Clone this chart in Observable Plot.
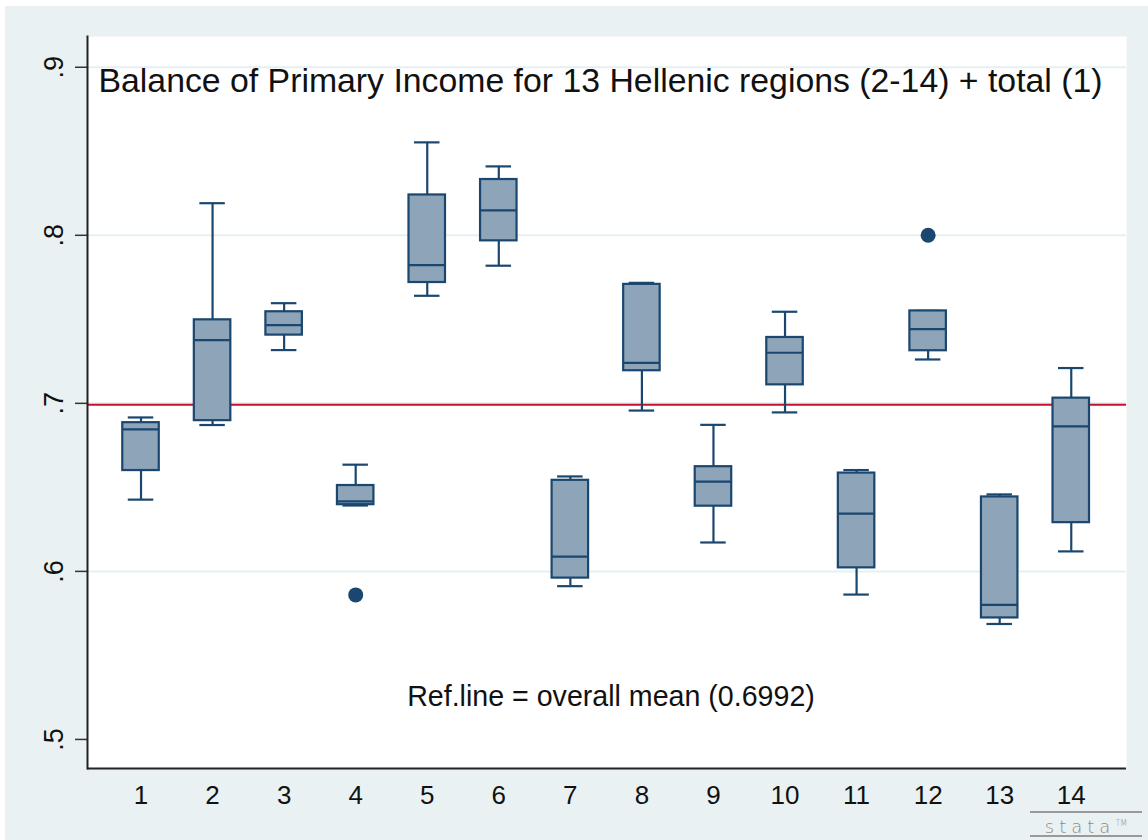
<!DOCTYPE html>
<html>
<head>
<meta charset="utf-8">
<script src="https://cdn.jsdelivr.net/npm/d3@7"></script>
<script src="https://cdn.jsdelivr.net/npm/@observablehq/plot@0.6"></script>
<style>
  html, body { margin: 0; padding: 0; background: #ffffff; }
  #wrap { position: absolute; left: 5px; top: 6px; width: 1143px; height: 834px; background: #e9f1f3; overflow: hidden; }
  #logo { position: absolute; left: 1030px; top: 811px; width: 112px; height: 22px;
          border-top: 2px solid #9a9a9a; border-bottom: 2px solid #9a9a9a;
          font-family: "DejaVu Sans", sans-serif; font-size: 18px; line-height: 22px; color: #8a8a8a;
          letter-spacing: 5px; text-align: center; font-weight: 300; }
  #logo sup { font-size: 8px; letter-spacing: 0; }
</style>
</head>
<body>
<div id="wrap"></div>
<div id="logo">stata<sup>TM</sup></div>
<script>
// ---- data ----
const categories = ["1","2","3","4","5","6","7","8","9","10","11","12","13","14"];
const lowerWhisker = [0.6427, 0.6871, 0.7317, 0.6392, 0.7640, 0.7819, 0.5912, 0.6957, 0.6172, 0.6946, 0.5862, 0.7261, 0.5687, 0.6119];
const q1           = [0.6600, 0.6897, 0.7406, 0.6397, 0.7719, 0.7967, 0.5960, 0.7194, 0.6388, 0.7110, 0.6021, 0.7313, 0.5723, 0.6290];
const medians      = [0.6845, 0.7376, 0.7466, 0.6417, 0.7822, 0.8148, 0.6088, 0.7241, 0.6534, 0.7301, 0.6344, 0.7442, 0.5801, 0.6863];
const q3           = [0.6885, 0.7497, 0.7545, 0.6511, 0.8240, 0.8332, 0.6542, 0.7708, 0.6623, 0.7392, 0.6585, 0.7550, 0.6443, 0.7031];
const upperWhisker = [0.6916, 0.8191, 0.7596, 0.6635, 0.8553, 0.8410, 0.6565, 0.7717, 0.6872, 0.7545, 0.6603, 0.7550, 0.6458, 0.7210];
const outlierCats   = ["4", "12"];
const outlierValues = [0.586, 0.800];
const overallMean = 0.6992;
const yTicks = [0.5, 0.6, 0.7, 0.8, 0.9];
const gridTicks = [0.6, 0.7, 0.8, 0.9];
const yDomain = [0.4827, 0.9183];
const titleText = "Balance of Primary Income for 13 Hellenic regions (2-14) + total (1)";
const noteText = "Ref.line = overall mean (0.6992)";

// ---- build tables ----
const boxes = categories.map((c, i) => ({
  cat: c, lo: lowerWhisker[i], q1: q1[i], med: medians[i], q3: q3[i], hi: upperWhisker[i]
}));
const outliers = outlierCats.map((c, i) => ({cat: c, v: outlierValues[i]}));

const navy = "#1a476f";
const boxFill = "#8ea4b8";
const font = "'Liberation Sans', Arial, Helvetica, sans-serif";

const chart = Plot.plot({
  width: 1143,
  height: 834,
  marginLeft: 82,
  marginRight: 22,
  marginTop: 30,
  marginBottom: 72,
  style: {background: "#e9f1f3", fontFamily: font, color: "#111"},
  x: {type: "band", domain: categories, paddingInner: 0.49, paddingOuter: 0.505, align: 0.488, round: false, axis: null, label: null},
  y: {domain: yDomain, axis: null, label: null},
  marks: [
    Plot.frame({fill: "white", stroke: "none"}),
    Plot.gridY(gridTicks, {stroke: "#e6eff1", strokeOpacity: 1, strokeWidth: 2}),
    Plot.ruleY([overallMean], {stroke: "#c8102e", strokeWidth: 2}),
    // whiskers
    Plot.ruleX(boxes, {x: "cat", y1: "lo", y2: "q1", stroke: navy, strokeWidth: 2.2}),
    Plot.ruleX(boxes, {x: "cat", y1: "q3", y2: "hi", stroke: navy, strokeWidth: 2.2}),
    Plot.tickY(boxes, {x: "cat", y: "lo", stroke: navy, strokeWidth: 2.2, insetLeft: 5.5, insetRight: 5.5}),
    Plot.tickY(boxes, {x: "cat", y: "hi", stroke: navy, strokeWidth: 2.2, insetLeft: 5.5, insetRight: 5.5}),
    // boxes
    Plot.barY(boxes, {x: "cat", y1: "q1", y2: "q3", fill: boxFill, stroke: navy, strokeWidth: 2.2}),
    Plot.tickY(boxes, {x: "cat", y: "med", stroke: navy, strokeWidth: 2.2}),
    // outliers
    Plot.dot(outliers, {x: "cat", y: "v", r: 7.5, fill: navy, stroke: "none"}),
    // axes
    Plot.axisY(yTicks, {
      tickSize: 12, tickPadding: 13, tickRotate: -90, fontSize: 27, label: null,
      tickFormat: d => d3.format(".1f")(d).replace(/^0/, ""),
      stroke: "#333", strokeWidth: 1.5, fill: "#111"
    }),
    Plot.axisX({tickSize: 0, tickPadding: 17, fontSize: 26, fill: "#111", label: null}),
    Plot.ruleY([yDomain[0]], {stroke: "#222", strokeWidth: 2}),
    Plot.frame({anchor: "left", stroke: "#222", strokeWidth: 2}),
    // texts
    Plot.text([titleText], {frameAnchor: "top-left", text: d => d, dx: 11, dy: 31,
      textAnchor: "start", lineAnchor: "top", fontSize: 33.8, fill: "#111"}),
    Plot.text([noteText], {frameAnchor: "bottom", text: d => d, dx: 4, dy: -72,
      textAnchor: "middle", lineAnchor: "middle", fontSize: 28.6, fill: "#111"})
  ]
});
document.getElementById("wrap").appendChild(chart);
</script>
</body>
</html>
